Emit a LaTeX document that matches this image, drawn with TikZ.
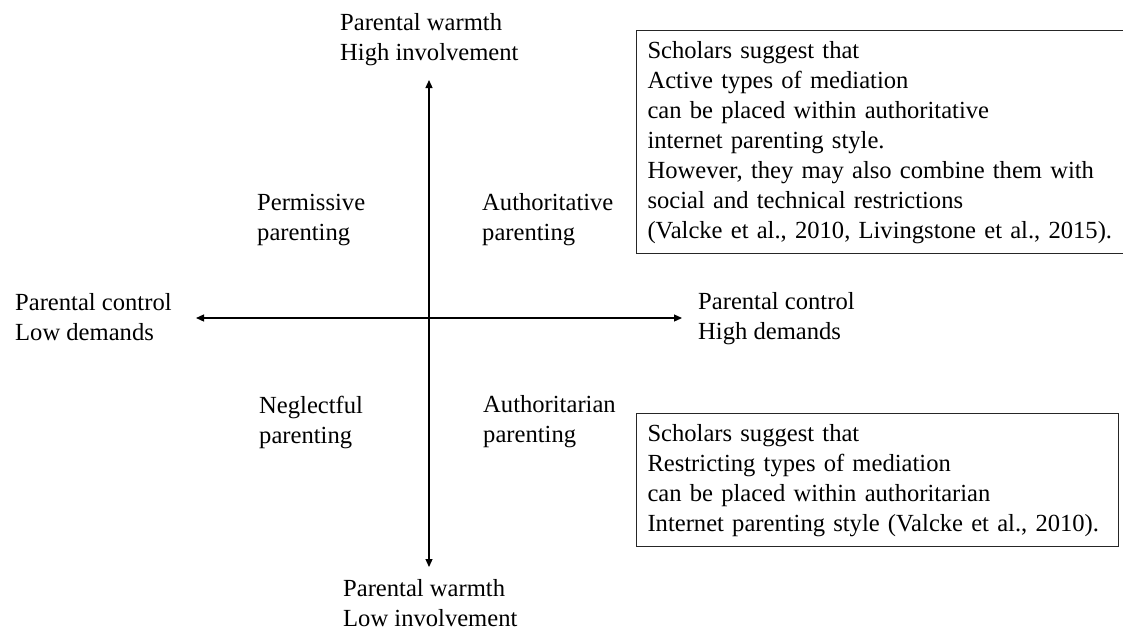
\documentclass[tikz,border=0pt]{standalone}
\usepackage{fontspec}
\setmainfont{Liberation Serif}
\usetikzlibrary{arrows.meta,positioning}
\tikzset{
  felirat/.style={align=left,inner sep=0pt,anchor=west},
  keret/.style={draw=black!85,line width=1pt,align=left,inner xsep=11pt,inner ysep=10.5pt,
                anchor=north west},
  tengely/.style={{Triangle[length=8pt,width=7pt]}-{Triangle[length=8pt,width=7pt]},line width=1.2pt},
}

\begin{document}
\begin{tikzpicture}[x=1pt,y=-1pt,font=\fontsize{24.6}{30}\selectfont]
  \useasboundingbox (0,0) rectangle (1123,630);
  \coordinate (fent) at (429,80); \coordinate (lent) at (429,567);
  \coordinate (bal) at (196,318); \coordinate (jobb) at (682,318);
  \draw[tengely] (lent) -- (fent);
  \draw[tengely] (bal) -- (jobb);
  % tengelyek vegei
  \node[felirat] (magas) at (340,40) {Parental warmth\\High involvement};
  \node[felirat] (alacsony) at (343,603) {Parental warmth\\Low involvement};
  \node[felirat] (enged) at (15,317) {Parental control\\Low demands};
  \node[felirat] (szigor) at (698,319) {Parental control\\High demands};
  % negyedek
  \node[felirat] (permissive) at (257,220) {Permissive\\parenting};
  \node[felirat] (authoritative) at (482,220) {Authoritative\\parenting};
  \node[felirat] (neglectful) at (259,422) {Neglectful\\parenting};
  \node[felirat] (authoritarian) at (483,422) {Authoritarian\\parenting};
  % megjegyzesek
  \node[keret,text width=474pt] (aktiv) at (636,30) {Scholars suggest that\\Active types of mediation\\
    can be placed within authoritative\\internet parenting style.\\However, they may also combine them with\\
    social and technical restrictions\\(Valcke et al., 2010, Livingstone et al., 2015).};
  \node[keret,text width=460pt] (korlat) at (636,413) {Scholars suggest that\\Restricting types of mediation\\
    can be placed within authoritarian\\Internet parenting style (Valcke et al., 2010).};
\end{tikzpicture}
\end{document}
